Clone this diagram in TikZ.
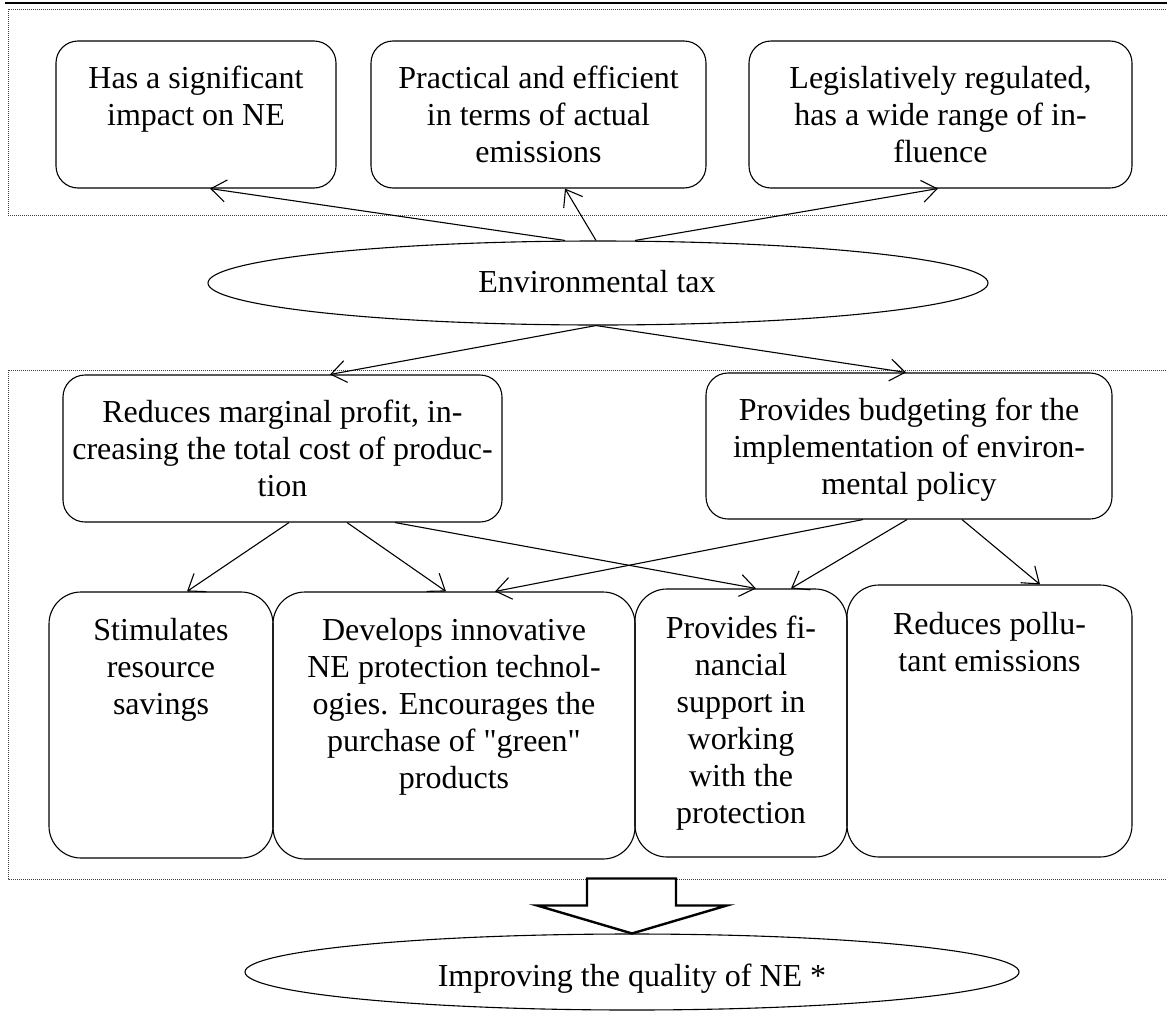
\documentclass[tikz,border=0pt]{standalone}
\usepackage{fontspec}
\setmainfont{Liberation Serif}[Ligatures=TeXOff]
\usetikzlibrary{arrows.meta,shapes.geometric,calc}
\begin{document}
\begin{tikzpicture}[x=1pt,y=-1pt,
  box/.style={draw, rounded corners=22pt, line width=1.1pt, inner sep=0pt},
  tallbox/.style={draw, rounded corners=32pt, line width=1.1pt, inner sep=0pt},
  oval/.style={draw, ellipse, line width=1.1pt, inner sep=0pt},
  txt/.style={anchor=north, inner sep=0pt, align=center, font=\fontsize{32}{37}\selectfont},
  frm/.style={draw=black!75, line width=1pt, dash pattern=on 1pt off 1pt},
  arr/.style={-{Straight Barb[length=15pt,width=22pt]}, line width=1.1pt},
  blockarrow/.style={draw, fill=white, line width=2.4pt, line join=miter},
]
\useasboundingbox (0,0) rectangle (1167,1012);
\draw[line width=2.6pt] (5,3) -- (1167,3);
\draw[frm] (8,9) rectangle (1180,215);
\draw[frm] (8,370) rectangle (1180,879);

% top row
\node[box, minimum width=280pt, minimum height=147pt] (b1) at (196,114.5) {};
\node[box, minimum width=335pt, minimum height=147pt] (b2) at (538.5,114.5) {};
\node[box, minimum width=383pt, minimum height=147pt] (b3) at (940.5,114.5) {};
\node[txt] (t1) at (196,62) {\strut Has a significant\\impact on NE};
\node[txt] (t2) at (538.5,62) {\strut Practical and efficient\\in terms of actual\\emissions};
\node[txt] (t3) at (940.5,62) {\strut Legislatively regulated,\\has a wide range of in-\\fluence};

% central ellipse
\node[oval, minimum width=780pt, minimum height=84pt] (e1) at (598,283) {};
\node[txt, anchor=base] (te1) at (597,292) {Environmental tax};

% middle row
\node[box, minimum width=439pt, minimum height=147pt] (b4) at (282.5,448.5) {};
\node[box, minimum width=406pt, minimum height=146pt] (b5) at (909,446) {};
\node[txt] (t4) at (282.5,396) {\strut Reduces marginal profit, in-\\creasing the total cost of produc-\\tion};
\node[txt] (t5) at (909,394) {\strut Provides budgeting for the\\implementation of environ-\\mental policy};

% bottom row
\node[tallbox, minimum width=224pt, minimum height=266pt] (b6) at (161,725) {};
\node[tallbox, minimum width=362pt, minimum height=267pt] (b7) at (454,725.5) {};
\node[tallbox, minimum width=212pt, minimum height=268pt] (b8) at (741,723) {};
\node[tallbox, minimum width=285pt, minimum height=272pt] (b9) at (989.5,721) {};
\node[txt] (t6) at (161,614) {\strut Stimulates\\resource\\savings};
\node[txt] (t7) at (454,614) {\strut Develops innovative\\NE protection technol-\\ogies. Encourages the\\purchase of "green"\\products};
\node[txt] (t8) at (741,612) {\strut Provides fi-\\nancial\\support in\\working\\with the\\protection};
\node[txt] (t9) at (989.5,608) {\strut Reduces pollu-\\tant emissions};

% final ellipse
\node[oval, minimum width=774pt, minimum height=76pt] (e2) at (632,972) {};
\node[txt, anchor=base] (te2) at (632,986) {Improving the quality of NE *};

% connectors
\draw[arr] ([xshift=-33pt]e1.north) -- ([xshift=14pt]b1.south);
\draw[arr] ([xshift=-2pt]e1.north) -- ([xshift=26.5pt]b2.south);
\draw[arr] ([xshift=37pt]e1.north) -- ([xshift=-2.5pt]b3.south);
\draw[arr] ([xshift=-2pt]e1.south) -- ([xshift=47.5pt]b4.north);
\draw[arr] ([xshift=-2pt]e1.south) -- ([xshift=-3pt]b5.north);
\draw[arr] ([xshift=6.5pt]b4.south) -- ([xshift=26pt]b6.north);
\draw[arr] ([xshift=64.5pt]b4.south) -- ([xshift=-8pt]b7.north);
\draw[arr] ([xshift=112.5pt]b4.south) -- ([xshift=15pt]b8.north);
\draw[arr] ([xshift=-46pt]b5.south) -- ([xshift=41pt]b7.north);
\draw[arr] ([xshift=-2pt]b5.south) -- ([xshift=50pt]b8.north);
\draw[arr] ([xshift=53pt]b5.south) -- ([xshift=50.5pt]b9.north);

% block arrow
\draw[blockarrow] ($(e2.north)+(-45,-55)$) -- ++(89,0) -- ++(0,27) -- ++(51,0) -- (e2.north) -- ++(-95,-28) -- ++(50,0) -- cycle;
\end{tikzpicture}
\end{document}
